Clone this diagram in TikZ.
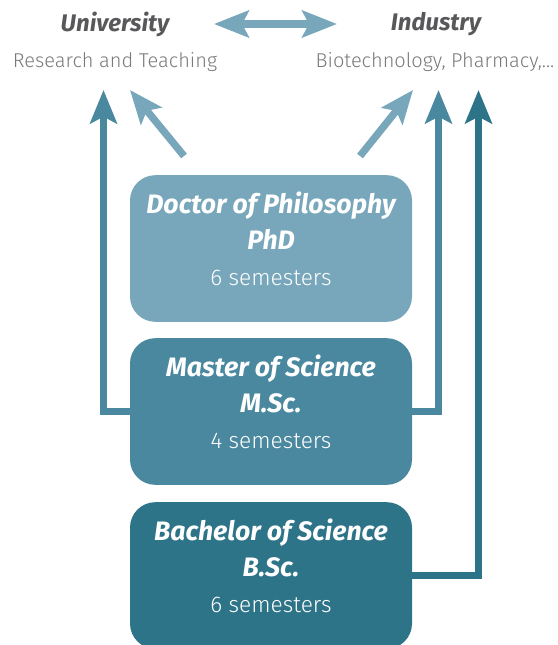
\documentclass[tikz,border=0pt]{standalone}
\usepackage{fontspec}
\setmainfont{Fira Sans}
\newfontfamily\lightfont{Fira Sans Light}
\usetikzlibrary{arrows.meta}

\definecolor{phdblue}{HTML}{78A7BB}
\definecolor{mscblue}{HTML}{4A889F}
\definecolor{bscblue}{HTML}{2E7489}
\definecolor{headgray}{HTML}{58585A}
\definecolor{subgray}{HTML}{7A7A7A}

\newcommand{\degtitle}[1]{{\bfseries\itshape\fontsize{20}{27}\selectfont #1}}
\newcommand{\degsem}[1]{{\lightfont\fontsize{17}{27}\selectfont #1}}

\tikzset{
  degree/.style={rounded corners=19pt, minimum width=211.5pt, minimum height=110pt, inner sep=0pt},
  degreetext/.style={text=white, align=center, font=\fontsize{17}{27}\selectfont},
  head/.style={text=headgray, font=\bfseries\itshape\fontsize{18}{20}\selectfont},
  sub/.style={text=subgray, font=\lightfont\fontsize{15}{18}\selectfont},
  arr/.style={line width=5.5pt, -{Stealth[length=25pt, width=20pt, inset=5pt]}},
}

\begin{document}
\begin{tikzpicture}[x=0.75pt, y=-0.75pt]
\useasboundingbox (0,0) rectangle (557,645);

\node[head] (uni) at (115,24) {University};
\node[sub] (unisub) at (115,62) {Research and Teaching};
\node[head] (ind) at (436,24) {Industry};
\node[sub] (indsub) at (435,62) {Biotechnology, Pharmacy,...};

\node[degree, fill=phdblue] (phd) at (271,248.5) {};
\node[degree, fill=mscblue] (msc) at (271,411.5) {};
\node[degree, fill=bscblue] (bsc) at (271,575.5) {};

\node[degreetext] (phdtext) at ([yshift=7pt]phd.center) {\degtitle{Doctor of Philosophy}\\\degtitle{PhD}\\\degsem{6 semesters}};
\node[degreetext] (msctext) at ([yshift=7pt]msc.center) {\degtitle{Master of Science}\\\degtitle{M.Sc.}\\\degsem{4 semesters}};
\node[degreetext] (bsctext) at ([yshift=7pt]bsc.center) {\degtitle{Bachelor of Science}\\\degtitle{B.Sc.}\\\degsem{6 semesters}};

\coordinate (link-l) at (214,24);
\coordinate (link-r) at (337,24);
\coordinate (phd-ul) at (184,156);
\coordinate (uni-d) at (130,90);
\coordinate (phd-ur) at (360,156);
\coordinate (ind-d) at (413,90);
\coordinate (uni-in) at (103.5,90);
\coordinate (ind-in) at (438.5,90);
\coordinate (ind-in2) at (478.5,90);

\draw[line width=6pt, phdblue, {Stealth[length=26pt, width=20pt, inset=5pt]}-{Stealth[length=26pt, width=20pt, inset=5pt]}] (link-l) -- (link-r);
\draw[arr, phdblue] (phd-ul) -- (uni-d);
\draw[arr, phdblue] (phd-ur) -- (ind-d);
\draw[arr, mscblue] (msc.west) -| (uni-in);
\draw[arr, mscblue] (msc.east) -| (ind-in);
\draw[arr, bscblue] (bsc.east) -| (ind-in2);
\end{tikzpicture}
\end{document}
